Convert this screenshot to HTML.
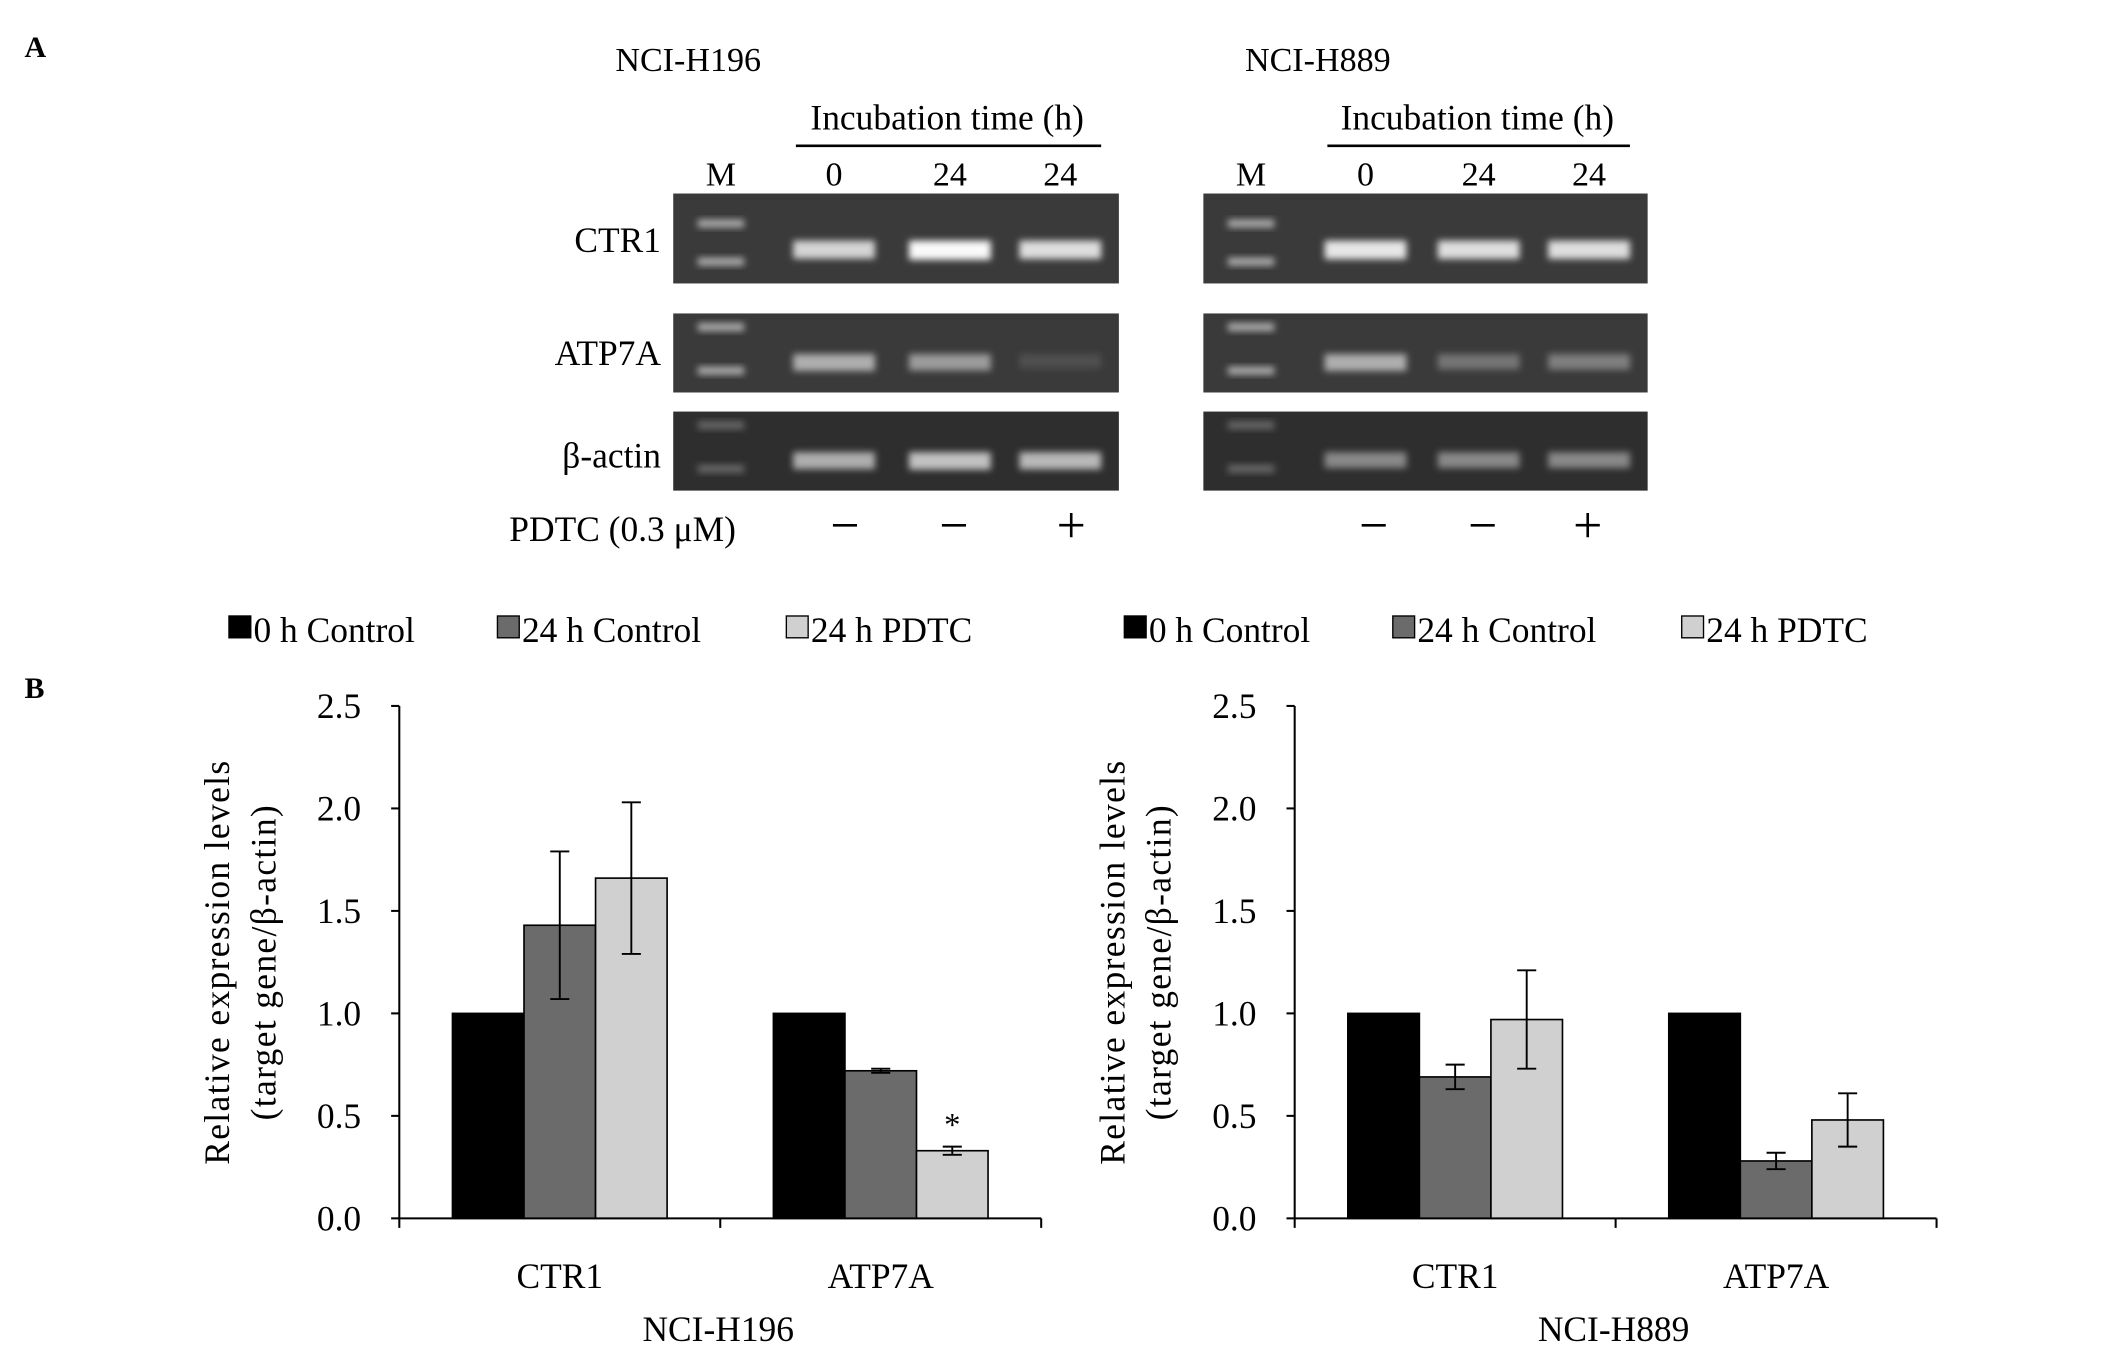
<!DOCTYPE html>
<html><head><meta charset="utf-8"><style>
html,body{margin:0;padding:0;background:#fff;}
svg{display:block;font-family:"Liberation Serif",serif;}
</style></head><body>
<svg id="fig" width="2126" height="1356" viewBox="0 0 1560 995">
<defs><filter id="blur" x="-20%" y="-50%" width="140%" height="200%"><feGaussianBlur stdDeviation="2.5"/></filter></defs>
<text x="18" y="42" font-size="22" font-weight="bold">A</text>
<text x="18" y="512" font-size="22" font-weight="bold">B</text>
<g id="gels"></g>
<g id="chartL"></g>
<g id="chartR"></g>
</svg>
<script>
// Chart data
const categories = ["CTR1", "ATP7A"];
const seriesNames = ["0 h Control", "24 h Control", "24 h PDTC"];
const h196Values = [[1.0, 1.43, 1.66], [1.0, 0.72, 0.33]];
const h196Errors = [[0, 0.36, 0.37], [0, 0.01, 0.02]];
const h889Values = [[1.0, 0.69, 0.97], [1.0, 0.28, 0.48]];
const h889Errors = [[0, 0.06, 0.24], [0, 0.04, 0.13]];
const yTicks = [0.0, 0.5, 1.0, 1.5, 2.0, 2.5];
const yTickLabels = ["0.0", "0.5", "1.0", "1.5", "2.0", "2.5"];

const NS = "http://www.w3.org/2000/svg";
function mk(parent, tag, attrs, text) {
  const e = document.createElementNS(NS, tag);
  for (const k in attrs) e.setAttribute(k, attrs[k]);
  if (text !== undefined) e.textContent = text;
  parent.appendChild(e);
  return e;
}
const fills = ["#000000", "#6b6b6b", "#d0d0d0"];

// ---------- Gels ----------
const gels = document.getElementById("gels");
function gelBlock(x0, title, lanesX, intens) {
  let t = mk(gels, "text", {x: x0 + 10, y: 52, "font-size": 25, "text-anchor": "middle"}, title);
  
  
  const lx = lanesX;
  t = mk(gels, "text", {x: (lx[1] + lx[3]) / 2, y: 95, "font-size": 26, "text-anchor": "middle"}, "Incubation time (h)");
  
  
  let l = mk(gels, "line", {x1: lx[1] - 28, x2: lx[3] + 30, y1: 107, y2: 107, stroke: "#000", "stroke-width": 2});
  
  
  ["M", "0", "24", "24"].forEach((s, i) => {
    const e = mk(gels, "text", {x: lx[i], y: 136, "font-size": 25, "text-anchor": "middle"}, s);
    
    
  });
  const rows = [[142, 208], [230, 288], [302, 360]];
  const gx = lx[0] - 35, gw = lx[3] - lx[0] + 78;
  rows.forEach((r, ri) => {
    const g = mk(gels, "g", {});
    
    
    mk(g, "rect", {x: gx, y: r[0], width: gw, height: r[1] - r[0], fill: ri === 2 ? "#2e2e2e" : "#3a3a3a"});
    const mid = r[0] + (r[1] - r[0]) * 0.6;
    // marker bands
    const mb = ri === 0 ? [r[0] + 22, r[0] + 50] : (ri === 1 ? [r[0] + 10, r[0] + 42] : [r[0] + 10, r[0] + 42]);
    mb.forEach((y, k) => mk(g, "rect", {x: lx[0] - 17, y: y - 3, width: 34, height: 6, fill: ri === 2 ? "#666" : "#aaa", filter: "url(#blur)"}));
    for (let i = 1; i < 4; i++) {
      const v = intens[ri][i - 1];
      const c = Math.round(60 + v * 190);
      mk(g, "rect", {x: lx[i] - 30, y: mid - 5, width: 60, height: 10 + v * 4, fill: `rgb(${c},${c},${c})`, filter: "url(#blur)"});
    }
  });
}
gelBlock(495, "NCI-H196", [529, 612, 697, 778], [[0.8, 1.0, 0.85], [0.6, 0.5, 0.1], [0.6, 0.7, 0.65]]);
gelBlock(957, "NCI-H889", [918, 1002, 1085, 1166], [[0.9, 0.85, 0.85], [0.6, 0.3, 0.35], [0.4, 0.4, 0.4]]);
[["CTR1", 185], ["ATP7A", 268], ["β-actin", 343]].forEach(([s, y]) => {
  const e = mk(gels, "text", {x: 485, y: y, "font-size": 26, "text-anchor": "end"}, s);
  
  
});
let pl = mk(gels, "text", {x: 540, y: 397, "font-size": 26, "text-anchor": "end"}, "PDTC (0.3 μM)");


[[620, "−"], [700, "−"], [786, "+"], [1008, "−"], [1088, "−"], [1165, "+"]].forEach(([x, s]) => {
  const e = mk(gels, "text", {x: x, y: 398, "font-size": 38, "text-anchor": "middle"}, s);
  
  
});

// ---------- Charts ----------
function drawChart(gid, ox, values, errors, title) {
  const g = document.getElementById(gid);
  const x0 = ox, x1 = ox + 471, yTop = 518, yBot = 894;
  const yScale = v => yBot - (v / 2.5) * (yBot - yTop);
  const groupW = (x1 - x0) / categories.length;
  const barW = 52.5;
  const xBar = (c, s) => x0 + groupW * c + groupW / 2 - barW * 1.5 + barW * s;

  // legend
  seriesNames.forEach((n, i) => {
    const lx = ox - 125 + [0, 197, 409][i];
    const r = mk(g, "rect", {x: lx, y: 452, width: 16, height: 16, fill: fills[i], stroke: "#000", "stroke-width": 1});
    
    
    const t = mk(g, "text", {x: lx + 18, y: 471, "font-size": 26}, n);
    
    
  });

  // bars
  values.forEach((vals, c) => vals.forEach((v, s) => {
    const b = mk(g, "rect", {x: xBar(c, s), y: yScale(v), width: barW, height: yBot - yScale(v), fill: fills[s], stroke: "#000", "stroke-width": 1.2});
    
    
    const e = errors[c][s];
    if (e > 0) {
      const cx = xBar(c, s) + barW / 2;
      const eg = mk(g, "g", {stroke: "#000", "stroke-width": 1.4});
      
      
      mk(eg, "line", {x1: cx, x2: cx, y1: yScale(v + e), y2: yScale(v - e)});
      mk(eg, "line", {x1: cx - 7, x2: cx + 7, y1: yScale(v + e), y2: yScale(v + e)});
      mk(eg, "line", {x1: cx - 7, x2: cx + 7, y1: yScale(v - e), y2: yScale(v - e)});
    }
  }));

  // axes
  let a = mk(g, "line", {x1: x0, x2: x0, y1: yTop, y2: yBot, stroke: "#000", "stroke-width": 1.5});
  
  
  a = mk(g, "line", {x1: x0, x2: x1, y1: yBot, y2: yBot, stroke: "#000", "stroke-width": 1.5});
  
  
  yTicks.forEach((v, i) => {
    mk(g, "line", {x1: x0 - 6, x2: x0, y1: yScale(v), y2: yScale(v), stroke: "#000", "stroke-width": 1.5});
    const t = mk(g, "text", {x: x0 - 28, y: yScale(v) + 9, "font-size": 26, "text-anchor": "end"}, yTickLabels[i]);
    
    
  });
  for (let c = 0; c <= categories.length; c++) {
    const tx = x0 + groupW * c;
    mk(g, "line", {x1: tx, x2: tx, y1: yBot, y2: yBot + 7, stroke: "#000", "stroke-width": 1.5});
  }
  categories.forEach((n, c) => {
    const t = mk(g, "text", {x: x0 + groupW * c + groupW / 2, y: 945, "font-size": 26, "text-anchor": "middle"}, n);
    
    
  });
  let t = mk(g, "text", {x: x0 + 234, y: 984, "font-size": 26, "text-anchor": "middle"}, title);
  
  
  const ty = mk(g, "text", {transform: `translate(${x0 - 125},706) rotate(-90)`, "font-size": 26, "text-anchor": "middle", "letter-spacing": "1"});
  
  
  mk(ty, "tspan", {x: 0, y: 0}, "Relative expression levels");
  mk(ty, "tspan", {x: 0, y: 34}, "(target gene/β-actin)");
  return {yScale, xBar, barW};
}
const L = drawChart("chartL", 293, h196Values, h196Errors, "NCI-H196");
drawChart("chartR", 950, h889Values, h889Errors, "NCI-H889");
// significance star on ATP7A 24h PDTC (NCI-H196)
const star = mk(document.getElementById("chartL"), "text", {x: L.xBar(1, 2) + L.barW / 2, y: L.yScale(h196Values[1][2] + h196Errors[1][2]) - 8, "font-size": 24, "text-anchor": "middle"}, "*");


</script>
</body></html>
